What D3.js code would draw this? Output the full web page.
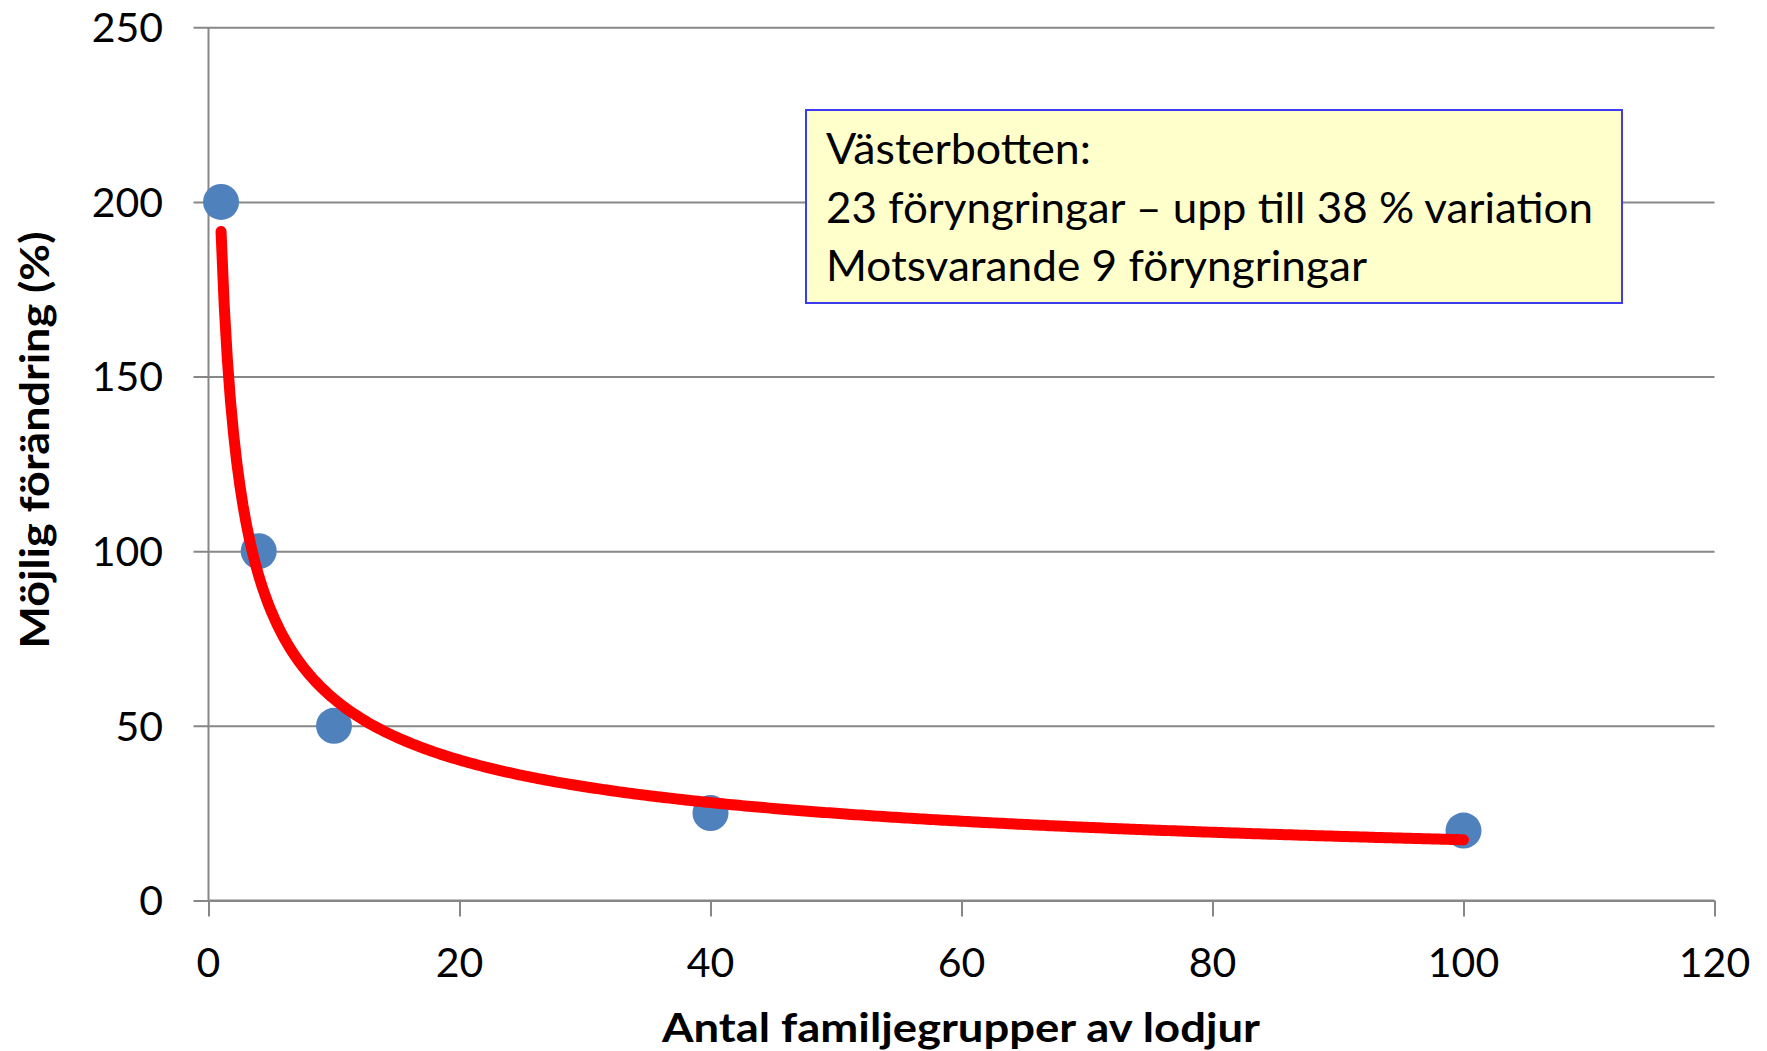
<!DOCTYPE html>
<html><head><meta charset="utf-8">
<script src="https://cdn.jsdelivr.net/npm/d3@7"></script>
<style>body{margin:0;background:#fff}svg{display:block}text{font-family:Lato,"Open Sans",sans-serif}</style>
</head><body><svg id="c" width="1767" height="1051"></svg>
<script>
const xValues = [1, 4, 10, 40, 100];
const yValues = [200, 100, 50, 25, 20];
const xTicks = [0, 20, 40, 60, 80, 100, 120];
const yTicks = [0, 50, 100, 150, 200, 250];
const xTitle = "Antal familjegrupper av lodjur";
const yTitle = "Möjlig förändring (%)";
const noteLines = ["Västerbotten:", "23 föryngringar – upp till 38 % variation", "Motsvarande 9 föryngringar"];

const svg = d3.select("#c");
const L = 208.5, R = 1714.5, T = 27.3, B = 900.4;
const x = d3.scaleLinear().domain([0, 120]).range([L, R]);
const y = d3.scaleLinear().domain([0, 250]).range([B, T]);
const grey = "#878787";

// gridlines + y axis
const ya = svg.append("g").attr("transform", `translate(${L},0)`)
  .call(d3.axisLeft(y).tickValues(yTicks).tickSize(-(R - L)).tickPadding(0).tickFormat(""));
ya.select(".domain").remove();
ya.selectAll(".tick line").attr("stroke", grey).attr("stroke-width", 2).attr("x1", -15);
svg.append("line").attr("x1", L).attr("x2", L).attr("y1", T).attr("y2", B).attr("stroke", grey).attr("stroke-width", 2);
svg.append("g").selectAll("text").data(yTicks).join("text")
  .attr("x", 163).attr("y", d => y(d)).attr("dy", "0.36em").attr("text-anchor", "end")
  .attr("font-size", 41).attr("fill", "#000").text(d => d);

// x axis
const xa = svg.append("g").attr("transform", `translate(0,${B})`)
  .call(d3.axisBottom(x).tickValues(xTicks).tickSize(16).tickFormat(""));
xa.select(".domain").attr("stroke", grey).attr("stroke-width", 2).attr("d", `M${L},0H${R}`);
xa.selectAll(".tick line").attr("stroke", grey).attr("stroke-width", 2);
svg.append("g").selectAll("text").data(xTicks).join("text")
  .attr("x", d => x(d)).attr("y", 962).attr("dy", "0.36em").attr("text-anchor", "middle")
  .attr("font-size", 41).attr("fill", "#000").text(d => d);

// titles
svg.append("text").attr("x", 961).attr("y", 1027).attr("dy", "0.36em").attr("text-anchor", "middle")
  .attr("font-size", 41).attr("font-weight", "bold")
  .attr("textLength", 598).attr("lengthAdjust", "spacingAndGlyphs").text(xTitle);
svg.append("text").attr("transform", "translate(34,440) rotate(-90)").attr("dy", "0.36em").attr("text-anchor", "middle")
  .attr("font-size", 41).attr("font-weight", "bold")
  .attr("textLength", 417).attr("lengthAdjust", "spacingAndGlyphs").text(yTitle);

// points
svg.append("g").selectAll("circle").data(xValues).join("circle")
  .attr("cx", d => x(d)).attr("cy", (d, i) => y(yValues[i])).attr("r", 18).attr("fill", "#4F81BD");

// power trendline (least squares on log-log, as in the source chart)
const lx = xValues.map(Math.log), ly = yValues.map(Math.log);
const mx = d3.mean(lx), my = d3.mean(ly);
const b = d3.sum(lx.map((v, i) => (v - mx) * (ly[i] - my))) / d3.sum(lx.map(v => (v - mx) ** 2));
const a = Math.exp(my - b * mx);
const trendX = d3.range(1, 100.01, 0.25);
svg.append("path").datum(trendX)
  .attr("d", d3.line().x(d => x(d)).y(d => y(a * Math.pow(d, b))))
  .attr("fill", "none").attr("stroke", "#FF0000").attr("stroke-width", 11).attr("stroke-linecap", "round");

// annotation box
svg.append("rect").attr("x", 806).attr("y", 110).attr("width", 816).attr("height", 193)
  .attr("fill", "#FFFFCC").attr("stroke", "#3B3BF0").attr("stroke-width", 2);
const noteWidths = [265, 767, 541];
svg.append("g").selectAll("text").data(noteLines).join("text")
  .attr("x", 826).attr("y", (d, i) => 149 + i * 58.6).attr("dy", "0.36em")
  .attr("font-size", 42).attr("fill", "#000")
  .attr("textLength", (d, i) => noteWidths[i]).attr("lengthAdjust", "spacingAndGlyphs").text(d => d);
</script></body></html>
